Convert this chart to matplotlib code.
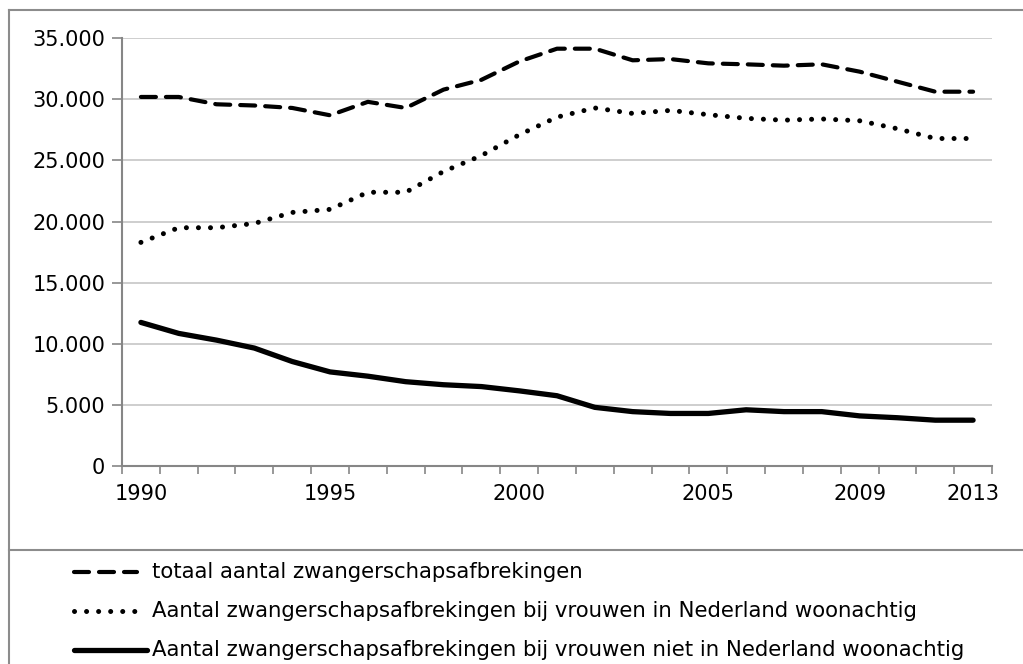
import matplotlib
matplotlib.use("Agg")
import matplotlib.pyplot as plt
from matplotlib.lines import Line2D
from matplotlib.ticker import FuncFormatter, FixedLocator

# Jaren op de categorie-as (23 categorieen)
jaren = list(range(1990, 2010)) + [2011, 2012, 2013]
getoonde_jaren = [1990, 1995, 2000, 2005, 2009, 2013]

totaal = [30200, 30200, 29600, 29500, 29300, 28700, 29800, 29300, 30800, 31600,
          33100, 34150, 34150, 33200, 33300, 32950, 32870, 32760, 32870, 32270,
          31450, 30630, 30630]
nl_woonachtig = [18300, 19500, 19500, 19850, 20750, 21000, 22400, 22400, 24100, 25400,
                 27100, 28550, 29300, 28850, 29100, 28750, 28450, 28300, 28400, 28250,
                 27600, 26800, 26800]
niet_nl = [11750, 10850, 10300, 9650, 8550, 7700, 7350, 6900, 6650, 6500,
           6150, 5750, 4800, 4450, 4300, 4300, 4600, 4450, 4450, 4100,
           3950, 3750, 3750]

labels = ["totaal aantal zwangerschapsafbrekingen",
          "Aantal zwangerschapsafbrekingen bij vrouwen in Nederland woonachtig",
          "Aantal zwangerschapsafbrekingen bij vrouwen niet in Nederland woonachtig"]

W, H = 1023, 664
fig = plt.figure(figsize=(W / 100, H / 100), dpi=100)
ax = fig.add_axes([122 / W, 1 - 466 / H, (992 - 122) / W, (466 - 38.3) / H])

x = list(range(len(jaren)))
stijl_dash = dict(color="black", lw=3.0, dashes=(3.6, 2.4), dash_capstyle="round",
                  solid_capstyle="round")
stijl_dot = dict(color="black", lw=3.6, dashes=(0.01, 2.4), dash_capstyle="round")
stijl_lijn = dict(color="black", lw=3.8, solid_capstyle="round", solid_joinstyle="round")

ax.plot(x, totaal, **stijl_dash)
ax.plot(x, nl_woonachtig, **stijl_dot)
ax.plot(x, niet_nl, **stijl_lijn)

ax.set_xlim(-0.5, len(jaren) - 0.5)
ax.set_ylim(0, 35000)

# y-as
ax.set_yticks(range(0, 35001, 5000))
ax.yaxis.set_major_formatter(FuncFormatter(lambda v, p: f"{int(v):,}".replace(",", ".")))
ax.grid(axis="y", color="#c6c6c6", lw=1.2)
ax.set_axisbelow(True)

# x-as: streepjes tussen categorieen, labels in het midden
ax.xaxis.set_major_locator(FixedLocator([jaren.index(j) for j in getoonde_jaren]))
ax.set_xticklabels([str(j) for j in getoonde_jaren])
ax.xaxis.set_minor_locator(FixedLocator([i - 0.5 for i in range(len(jaren) + 1)]))
ax.tick_params(axis="x", which="major", length=0, pad=13)
ax.tick_params(axis="x", which="minor", length=6, width=1.2, color="#868686")
ax.tick_params(axis="y", length=7, width=1.2, color="#868686", pad=5)
ax.tick_params(labelsize=15)

for s in ["top", "right"]:
    ax.spines[s].set_visible(False)
for s in ["left", "bottom"]:
    ax.spines[s].set_color("#868686")
    ax.spines[s].set_linewidth(1.5)

# kaders van grafiek en legenda
kader = dict(color="#8c8c8c", lw=1.5, transform=None)
fig.add_artist(Line2D([9, 9], [0, H - 10], **kader))
fig.add_artist(Line2D([9, W], [H - 10, H - 10], **kader))
fig.add_artist(Line2D([9, W], [H - 550, H - 550], **kader))

# legenda
rijen_y = [572, 611, 650]
stijlen = [stijl_dash, stijl_dot, stijl_lijn]
eindes = [137, 135, 147]
for y, st, eind, tekst in zip(rijen_y, stijlen, eindes, labels):
    fig.add_artist(Line2D([74, eind], [H - y, H - y], transform=None, **st))
    fig.text(152 / W, 1 - y / H, tekst, fontsize=15.3, va="center", ha="left")

fig.savefig("out.png", dpi=100)
